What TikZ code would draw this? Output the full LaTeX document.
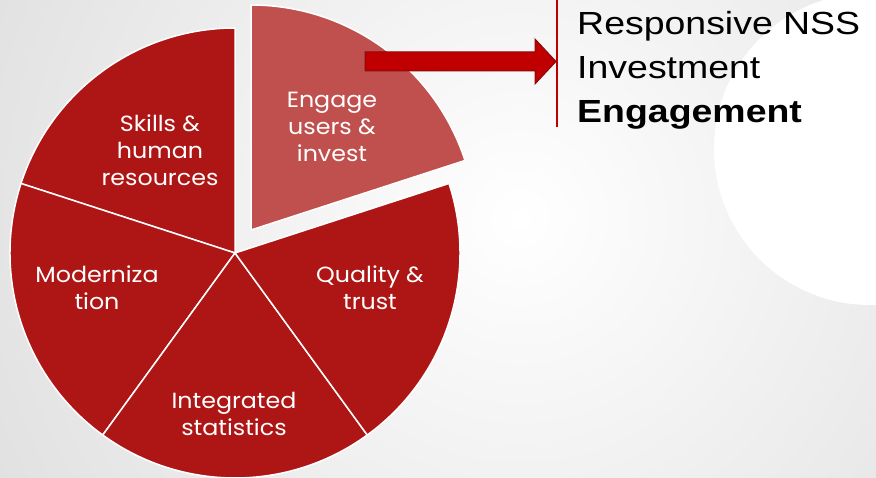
\documentclass[tikz,border=0pt]{standalone}
\usepackage{fontspec}
\setmainfont{Liberation Sans}
\newfontfamily\piefont{Poppins}
\usetikzlibrary{arrows.meta}

\definecolor{pieRed}{HTML}{AE1515}
\definecolor{pieLight}{HTML}{C0504D}
\definecolor{arrowRed}{HTML}{C00000}
\definecolor{arrowEdge}{HTML}{8A0A0A}
\definecolor{bgGray}{HTML}{C4C4C4}

\begin{document}
\begin{tikzpicture}[x=1pt, y=1pt,
  slice/.style={fill=pieRed, draw=white, line width=1.5pt, line join=round},
  pielabel/.style={text=white, align=center, inner sep=0pt, xscale=1.08,
    font=\piefont\fontsize{22}{27}\selectfont}]
\useasboundingbox (0,0) rectangle (876,478);
\begin{scope}
  \clip (0,0) rectangle (876,478);
  \fill[bgGray] (0,0) rectangle (876,478);
  \shade[inner color=white, outer color=bgGray] (520,260) circle (1150);
  \fill[white] (870,329) circle (156);
\end{scope}

\coordinate (centre) at (235,225);
\foreach \a in {90,162,234,306}
  \filldraw[slice] (centre) -- ++(\a:225)
    arc[start angle=\a, end angle=\a+72, radius=225] -- cycle;
\filldraw[slice, fill=pieLight]
       ([shift={(16,23)}]centre) coordinate(engagecorner)
  -- ++(18:225)
  arc[start angle=18, end angle=90, radius=225] -- cycle;

\node[pielabel] (engage)  at (332,351) {Engage\\users \&\\invest};
\node[pielabel] (skills)  at (160,328) {Skills \&\\human\\resources};
\node[pielabel] (modern)  at (97,190)  {Moderniza\\tion};
\node[pielabel] (quality) at (370,190) {Quality \&\\trust};
\node[pielabel] (integ)   at (234,64)  {Integrated\\statistics};

\draw[arrowRed, line width=2pt]
     (557,478) coordinate(bartop)
  -- (557,351) coordinate(barbot);
\coordinate (arrowtail) at (365,416.5);
\coordinate (arrowtip) at (556,416.5);
\filldraw[fill=arrowRed, draw=arrowEdge, line width=1pt, line join=miter]
       (arrowtail)
  -- ++(0,9.5)
  -- ++(170,0)
  -- ++(0,13)
  -- (arrowtip)
  -- ++(-21,-22.5)
  -- ++(0,13)
  -- ++(-170,0)
  -- cycle;

\node[anchor=base west, align=left, inner sep=0pt, xscale=1.17,
      font=\fontsize{32}{44}\selectfont] (nss) at (577,355)
  {Responsive NSS\\Investment\\\textbf{Engagement}};
\end{tikzpicture}
\end{document}
